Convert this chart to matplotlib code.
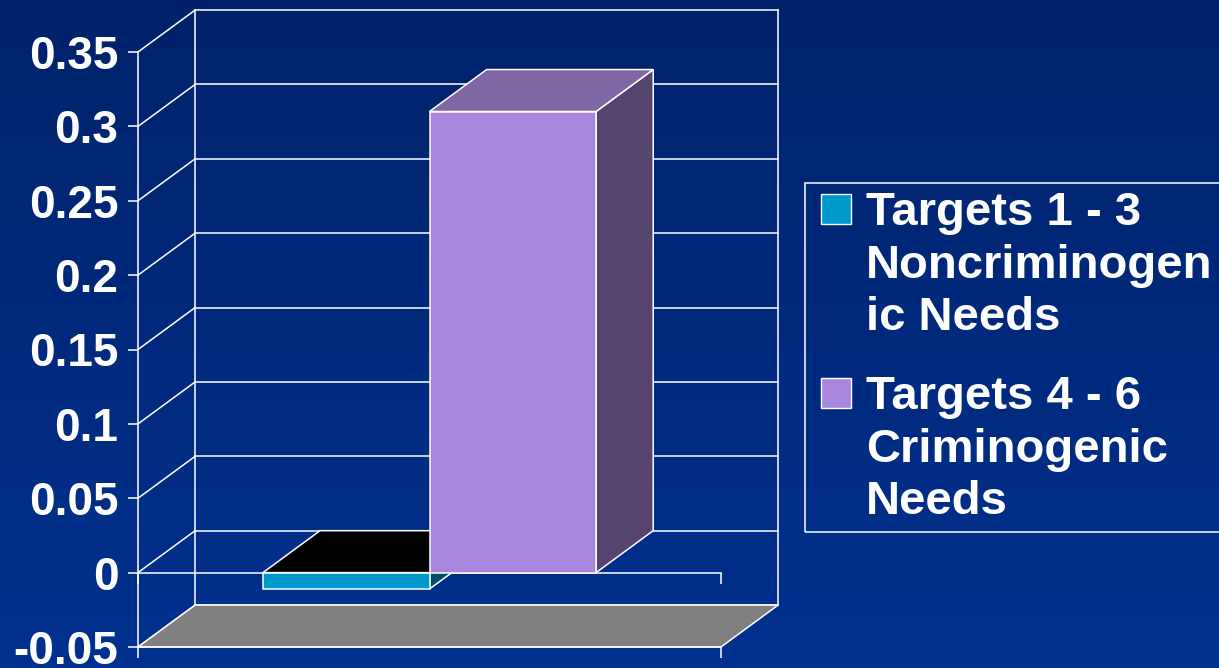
import numpy as np
import matplotlib.pyplot as plt
from matplotlib.patches import Polygon, Rectangle
from matplotlib.colors import LinearSegmentedColormap

plt.rcParams['font.family'] = ['Liberation Sans', 'DejaVu Sans']
plt.rcParams['font.weight'] = 'bold'

# one category, two series
series = ['Targets 1 - 3\nNoncriminogen\nic Needs',
          'Targets 4 - 6\nCriminogenic\nNeeds']
values = [-0.011, 0.31]
front_colors = ['#0099cc', '#a886de']
top_colors = ['#000000', '#7f67a6']
side_colors = ['#004d66', '#54446f']
yticks = [-0.05, 0, 0.05, 0.1, 0.15, 0.2, 0.25, 0.3, 0.35]
ytick_labels = ['-0.05', '0', '0.05', '0.1', '0.15', '0.2', '0.25', '0.3', '0.35']

ymin, ymax = -0.05, 0.35
dx, dy = 0.098, 0.0282   # depth of the 3d box, in data units
gap = 1.5                # gap width, as a fraction of bar width
lw = 1.1
W = 'white'

W_PX, H_PX = 1219, 668
fig = plt.figure(figsize=(W_PX / 100, H_PX / 100), dpi=100)

# slide background
bg = fig.add_axes([0, 0, 1, 1], zorder=-10)
cmap = LinearSegmentedColormap.from_list('bg', ['#01226a', '#00318f'])
bg.imshow(np.linspace(0, 1, 256)[:, None], aspect='auto', cmap=cmap,
          extent=[0, 1, 0, 1], origin='upper')
bg.axis('off')

ax = fig.add_axes([138 / W_PX, 21 / H_PX, 583 / W_PX, 595 / H_PX])
ax.set_xlim(0, 1)
ax.set_ylim(ymin, ymax)
ax.patch.set_visible(False)
for s in ['top', 'right']:
    ax.spines[s].set_visible(False)
for s in ['left', 'bottom']:
    ax.spines[s].set_color(W)
    ax.spines[s].set_linewidth(lw)
ax.set_yticks(yticks, ytick_labels)
ax.tick_params(axis='y', colors=W, direction='out', length=7.2, width=lw,
               pad=7, labelsize=33)
ax.set_xticks([0, 1], ['', ''])
ax.tick_params(axis='x', colors=W, direction='out', length=8, width=lw)

# back wall gridlines + side wall diagonals
for v in yticks:
    ax.plot([dx, 1 + dx], [v + dy, v + dy], color=W, lw=lw, clip_on=False, zorder=1)
    ax.plot([0, dx], [v, v + dy], color=W, lw=lw, clip_on=False, zorder=1)
ax.plot([dx, dx], [ymin + dy, ymax + dy], color=W, lw=lw, clip_on=False, zorder=1)
ax.plot([1 + dx, 1 + dx], [ymin + dy, ymax + dy], color=W, lw=lw, clip_on=False, zorder=1)

# floor
ax.add_patch(Polygon([(0, ymin), (1, ymin), (1 + dx, ymin + dy), (dx, ymin + dy)],
                     closed=True, fc='#808080', ec=W, lw=lw, clip_on=False, zorder=1.5))

# bars
n = len(values)
width = 1 / (n + gap)
x0s = gap / 2 * width + np.arange(n) * width
for i, (v, x0) in enumerate(zip(values, x0s)):
    lo, hi = min(v, 0), max(v, 0)
    x1 = x0 + width
    z = 3 + i
    ax.add_patch(Polygon([(x1, lo), (x1 + dx, lo + dy), (x1 + dx, hi + dy), (x1, hi)],
                         closed=True, fc=side_colors[i], ec=W, lw=lw, clip_on=False, zorder=z))
    ax.add_patch(Polygon([(x0, hi), (x1, hi), (x1 + dx, hi + dy), (x0 + dx, hi + dy)],
                         closed=True, fc=top_colors[i], ec=W, lw=lw, clip_on=False, zorder=z))
    ax.add_patch(Rectangle((x0, lo), width, hi - lo, fc=front_colors[i], ec=W, lw=lw,
                           clip_on=False, zorder=z + 0.5))

# category axis crossing at zero
zero = ax.secondary_xaxis((0 - ymin) / (ymax - ymin))
zero.spines['bottom'].set_color(W)
zero.spines['bottom'].set_linewidth(lw)
zero.set_xticks([0, 1], ['', ''])
zero.tick_params(colors=W, direction='out', length=8, width=lw)

# legend
fig.add_artist(Rectangle((805 / W_PX, 1 - 532 / H_PX), 0.5, (532 - 183) / H_PX,
                         transform=fig.transFigure, fill=False, ec=W, lw=lw))
for i, (lab, top) in enumerate(zip(series, [191, 375])):
    fig.add_artist(Rectangle((821 / W_PX, 1 - (top + 33) / H_PX), 30 / W_PX, 30 / H_PX,
                             transform=fig.transFigure, fc=front_colors[i], ec=W, lw=1))
    fig.text(866 / W_PX, 1 - top / H_PX, lab, color=W, fontsize=34,
             va='top', ha='left', linespacing=1.25)

fig.savefig('out.png', dpi=100)
